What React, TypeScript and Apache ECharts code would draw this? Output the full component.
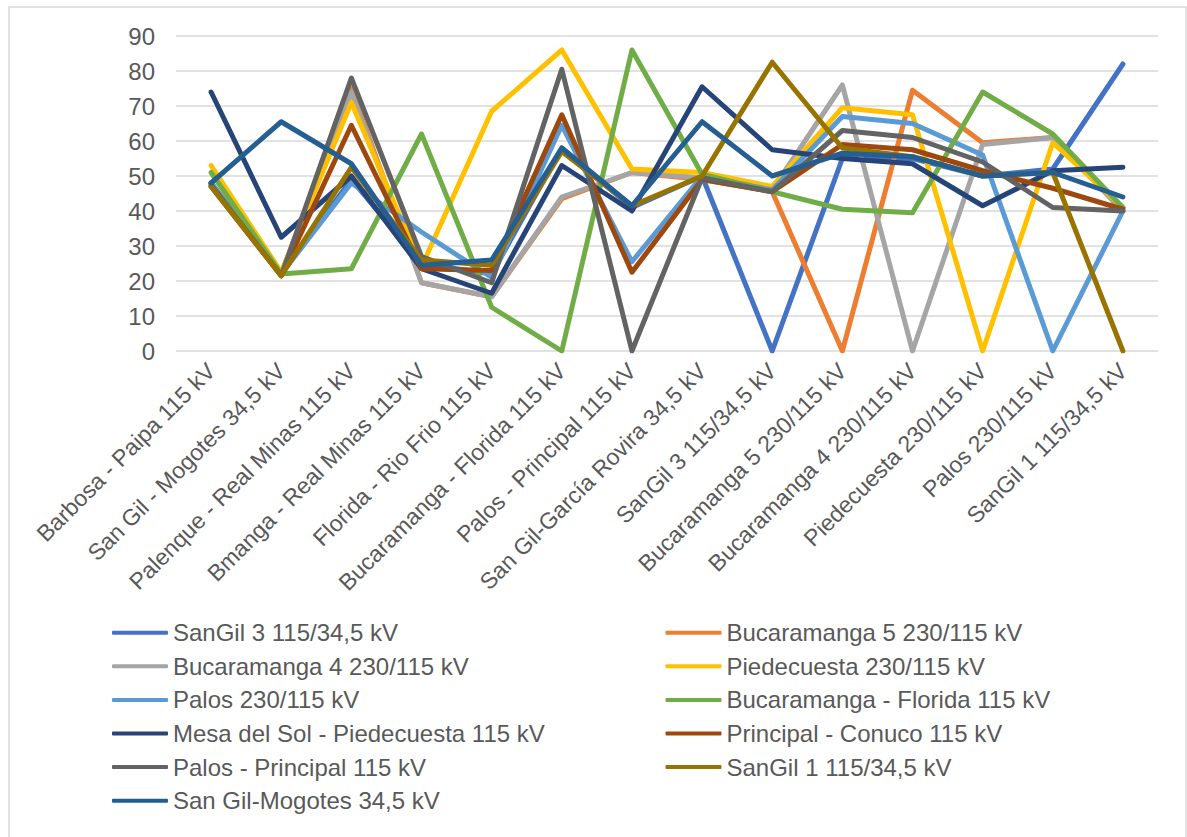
import React, { useEffect, useRef } from "react";
import * as echarts from "echarts";

const categories = [
  "Barbosa - Paipa 115 kV",
  "San Gil - Mogotes 34,5 kV",
  "Palenque - Real Minas 115 kV",
  "Bmanga - Real Minas 115 kV",
  "Florida - Rio Frio 115 kV",
  "Bucaramanga - Florida 115 kV",
  "Palos - Principal 115 kV",
  "San Gil-García Rovira 34,5 kV",
  "SanGil 3 115/34,5 kV",
  "Bucaramanga 5 230/115 kV",
  "Bucaramanga 4 230/115 kV",
  "Piedecuesta 230/115 kV",
  "Palos 230/115 kV",
  "SanGil 1 115/34,5 kV",
];

const seriesNames = [
  "SanGil 3 115/34,5 kV",
  "Bucaramanga 5 230/115 kV",
  "Bucaramanga 4 230/115 kV",
  "Piedecuesta 230/115 kV",
  "Palos 230/115 kV",
  "Bucaramanga - Florida 115 kV",
  "Mesa del Sol - Piedecuesta 115 kV",
  "Principal - Conuco 115 kV",
  "Palos - Principal 115 kV",
  "SanGil 1 115/34,5 kV",
  "San Gil-Mogotes 34,5 kV",
];

const sanGil3 = [48, 22, 49, 25, 22, 58, 41, 50, 0, 55, 55, 50, 52, 82];
const bucaramanga5 = [48, 22, 75, 19.5, 15.5, 43.5, 51, 49, 45.5, 0, 74.5, 59.5, 61, 40];
const bucaramanga4 = [48, 22, 74, 19.5, 15.5, 44, 51, 49.5, 46, 76, 0, 59, 61, 40];
const piedecuesta = [53, 22.5, 71, 24, 68.5, 86, 52, 51, 47, 69.5, 67.5, 0, 59.5, 41];
const palos230 = [48, 22, 48, 34, 21, 64.5, 25.5, 50, 46, 67, 65, 56, 0, 40];
const bucaramangaFlorida = [51, 22, 23.5, 62, 12.5, 0, 86, 50.5, 45.5, 40.5, 39.5, 74, 62, 41];
const mesaDelSol = [74, 32.5, 50, 23.5, 16.5, 53, 40, 75.5, 57.5, 55, 53.5, 41.5, 51.5, 52.5];
const principalConuco = [47, 21.5, 64.5, 23.5, 23, 67.5, 22.5, 49, 45.5, 59, 57.5, 51.5, 46.5, 40.5];
const palosPrincipal = [47.5, 21.5, 78, 27, 19.5, 80.5, 0, 49.5, 45.5, 63, 61, 54, 41, 40];
const sanGil1 = [47, 21.5, 52.5, 26, 24.5, 57, 41.5, 50, 82.5, 58, 55.5, 50, 51, 0];
const sanGilMogotes = [48, 65.5, 53.5, 24.5, 26, 58, 41.5, 65.5, 50, 56.5, 55.5, 50, 51, 44];

const seriesValues = [
  sanGil3, bucaramanga5, bucaramanga4, piedecuesta, palos230, bucaramangaFlorida,
  mesaDelSol, principalConuco, palosPrincipal, sanGil1, sanGilMogotes,
];

const colors = [
  "#4472C4", "#ED7D31", "#A5A5A5", "#FFC000", "#5B9BD5", "#70AD47",
  "#264478", "#9E480E", "#636363", "#997300", "#255E91",
];

const yTicks = { min: 0, max: 90, interval: 10 };

export default function App() {
  const ref = useRef<HTMLDivElement>(null);
  useEffect(() => {
    if (!ref.current) return;
    const chart = echarts.init(ref.current, undefined, { renderer: "svg" });
    const font = "Arial, 'Liberation Sans', sans-serif";
    const textColor = "#595959";
    const legendCommon = {
      orient: "vertical",
      icon: "roundRect",
      padding: 0,
      itemWidth: 56,
      itemHeight: 4,
      itemGap: 7.6,
      top: 619.7,
      textStyle: { fontSize: 24, lineHeight: 26, color: textColor, fontFamily: font },
    };
    chart.setOption({
      animation: false,
      backgroundColor: "#ffffff",
      color: colors,
      grid: {
        left: 176,
        right: 29,
        top: 36,
        height: 315,
        containLabel: false,
        outerBoundsMode: "none",
      },
      graphic: [
        {
          type: "rect",
          shape: { x: 9, y: 7, width: 1177, height: 840 },
          style: { fill: "none", stroke: "#d9d9d9", lineWidth: 1.5 },
          silent: true,
        },
      ],
      legend: [
        {
          ...legendCommon,
          left: 112,
          data: [0, 2, 4, 6, 8, 10].map((i) => seriesNames[i]),
        },
        {
          ...legendCommon,
          left: 665.5,
          data: [1, 3, 5, 7, 9].map((i) => seriesNames[i]),
        },
      ],
      xAxis: {
        type: "category",
        data: categories,
        boundaryGap: true,
        axisLine: { show: false },
        axisTick: { show: false },
        splitLine: { show: false },
        axisLabel: {
          interval: 0,
          rotate: 45,
          margin: 16,
          fontSize: 23,
          color: textColor,
          fontFamily: font,
          hideOverlap: false,
        },
      },
      yAxis: {
        type: "value",
        min: yTicks.min,
        max: yTicks.max,
        interval: yTicks.interval,
        axisLine: { show: false },
        axisTick: { show: false },
        splitLine: { lineStyle: { color: "#d9d9d9", width: 1.5 } },
        axisLabel: { margin: 21, fontSize: 24, color: textColor, fontFamily: font },
      },
      series: seriesNames.map((name, i) => ({
        name,
        type: "line",
        data: seriesValues[i],
        symbol: "none",
        showSymbol: false,
        lineStyle: { width: 5, color: colors[i], join: "round", cap: "round" },
        itemStyle: { color: colors[i] },
        z: 2 + i,
      })),
    });
    return () => chart.dispose();
  }, []);
  return (
    <div
      ref={ref}
      style={{ position: "fixed", left: 0, top: 0, width: 1187, height: 837, background: "#fff" }}
    />
  );
}
